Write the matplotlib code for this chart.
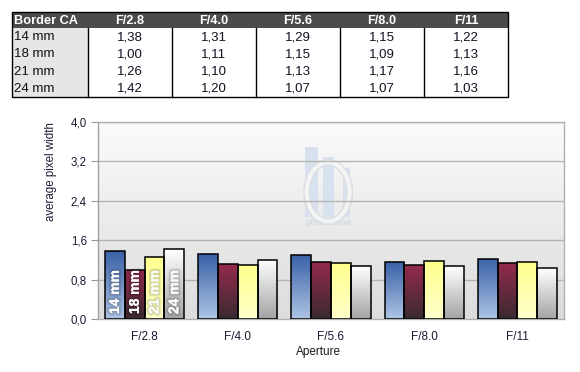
import matplotlib
matplotlib.use("Agg")
import matplotlib.pyplot as plt
import matplotlib.patheffects as pe
from matplotlib.patches import Rectangle, Ellipse
from matplotlib.colors import LinearSegmentedColormap
import numpy as np

plt.rcParams['font.family'] = ['Liberation Sans', 'DejaVu Sans']

apertures = ["F/2.8", "F/4.0", "F/5.6", "F/8.0", "F/11"]
focals = ["14 mm", "18 mm", "21 mm", "24 mm"]
ca_14 = [1.38, 1.31, 1.29, 1.15, 1.22]
ca_18 = [1.00, 1.11, 1.15, 1.09, 1.13]
ca_21 = [1.26, 1.10, 1.13, 1.17, 1.16]
ca_24 = [1.42, 1.20, 1.07, 1.07, 1.03]
series = [ca_14, ca_18, ca_21, ca_24]
yticks = [0.0, 0.8, 1.6, 2.4, 3.2, 4.0]

# top colour, bottom colour for each bar series
grads = [("#3a62a8", "#aec4e4"), ("#942a4c", "#3a2a30"),
         ("#ffff8c", "#ffffcc"), ("#ffffff", "#a4a4a4")]

W, H = 580, 372
fig = plt.figure(figsize=(W / 100, H / 100), dpi=100)
fig.patch.set_facecolor("white")


def fx(px):
    return px / W


def fy(py):
    return 1 - py / H


# ---- table at the top ----
tax = fig.add_axes([0, 0, 1, 1])
tax.set_xlim(0, W)
tax.set_ylim(H, 0)
tax.axis("off")
col_edges = [12, 88, 172, 256, 340, 424, 508]
row_top, head_h, row_h = 12, 16, 17.25
tax.add_patch(Rectangle((12, row_top), 496, head_h, color="#4b4b4b", lw=0))
tax.add_patch(Rectangle((12, row_top + head_h), 76, 4 * row_h, facecolor="#e6e6e6", lw=0))
tax.add_patch(Rectangle((12, row_top), 496, head_h + 4 * row_h, fill=False, ec="black", lw=1))
for xe in col_edges[1:-1]:
    tax.plot([xe, xe], [row_top + head_h, row_top + head_h + 4 * row_h], color="black", lw=1)
tax.text(14, row_top + head_h / 2 + 0.5, "Border CA", color="white", fontweight="bold",
         fontsize=9.2, va="center", ha="left")
for i, a in enumerate(apertures):
    cx = (col_edges[i + 1] + col_edges[i + 2]) / 2
    tax.text(cx, row_top + head_h / 2 + 0.5, a, color="white", fontweight="bold",
             fontsize=9.2, va="center", ha="center")
for r, (f, vals) in enumerate(zip(focals, series)):
    cy = row_top + head_h + row_h * (r + 0.5) + 0.5
    tax.text(14, cy, f, fontsize=9.5, va="center", ha="left", color="#111111")
    for i, v in enumerate(vals):
        cx = (col_edges[i + 1] + col_edges[i + 2]) / 2
        tax.text(cx, cy, f"{v:.2f}".replace(".", ","), fontsize=9.5, va="center",
                 ha="center", color="#111122")

# ---- bar chart ----
left, right, top, bottom = 98, 564, 122, 319
ax = fig.add_axes([fx(left), fy(bottom), fx(right - left), fy(top) - fy(bottom)])
ax.set_xlim(-0.5, 4.5)
ax.set_ylim(0, 4.0)

# background gradient
bg = LinearSegmentedColormap.from_list("bg", ["#dcdcdc", "#fbfbfb"])
ax.imshow(np.linspace(0, 1, 256).reshape(-1, 1), extent=[0, 1, 0, 1], origin="lower",
          transform=ax.transAxes, cmap=bg, aspect="auto", zorder=0)

# faint watermark
wm = "#d8e2ee"
for wx, ww, wt in [(0.444, 0.028, 0.873), (0.482, 0.024, 0.822), (0.526, 0.015, 0.766)]:
    ax.add_patch(Rectangle((wx, 0.518), ww, wt - 0.518, transform=ax.transAxes,
                           color=wm, lw=0, zorder=0.5))
ax.add_patch(Ellipse((0.494, 0.645), 0.092, 0.30, transform=ax.transAxes,
                     fill=False, ec="#dadde2", lw=5, zorder=0.6))
ax.add_patch(Ellipse((0.494, 0.645), 0.092, 0.30, transform=ax.transAxes,
                     fill=False, ec="#f4f4f4", lw=3, zorder=0.7))
ax.text(0.494, 0.49, "photozone", transform=ax.transAxes, fontsize=6.5,
        fontweight="bold", color="#d2dae4", ha="center", va="center", zorder=0.6)

for yv in yticks[1:]:
    ax.axhline(yv, color="#b4b4b4", lw=1, zorder=1)

x = np.arange(len(apertures))
bw = 0.212
for k, vals in enumerate(series):
    pos = x + (k - 1.5) * bw
    bars = ax.bar(pos, vals, width=bw, facecolor="none", edgecolor="black", lw=1.1, zorder=3)
    cmap = LinearSegmentedColormap.from_list(f"g{k}", [grads[k][1], grads[k][0]])
    for b in bars:
        bx, bwid, bh = b.get_x(), b.get_width(), b.get_height()
        im = ax.imshow(np.linspace(0, 1, 128).reshape(-1, 1), extent=[bx, bx + bwid, 0, bh],
                       origin="lower", cmap=cmap, aspect="auto", zorder=2)
        im.set_clip_path(b)
    # series label inside first group, soft white with a blurred shadow look
    ax.text(pos[0], 0.1, focals[k], rotation=90, ha="center", va="bottom",
            fontsize=10, fontweight="bold", color=(1, 1, 1, 0.75), zorder=4,
            path_effects=[pe.withStroke(linewidth=4, foreground=(0, 0, 0, 0.06)),
                          pe.withStroke(linewidth=2.5, foreground=(0, 0, 0, 0.10)),
                          pe.Normal()])

ax.set_xlim(-0.5, 4.5)
ax.set_ylim(0, 4.0)
ax.set_yticks(yticks)
ax.set_yticklabels([f"{v:.1f}".replace(".", ",") for v in yticks], fontsize=8.3, color="#1a1a33")
ax.set_xticks(x)
ax.set_xticklabels(apertures, fontsize=8.5, color="#1a1a33")
ax.tick_params(axis="y", length=5, color="#999999", pad=3)
ax.tick_params(axis="x", length=0, pad=9)
for s in ax.spines.values():
    s.set_color("#b0b0b0")
    s.set_linewidth(1)
ax.spines["left"].set_color("#a0a0a0")

fig.text(fx(51), fy(172), "average pixel width", rotation=90, fontsize=8.3,
         color="#1a1a33", ha="center", va="center")
fig.text(fx(318), fy(352), "Aperture", fontsize=8.5, color="#1a1a1a", ha="center", va="center")

fig.savefig("out.png", dpi=100)
